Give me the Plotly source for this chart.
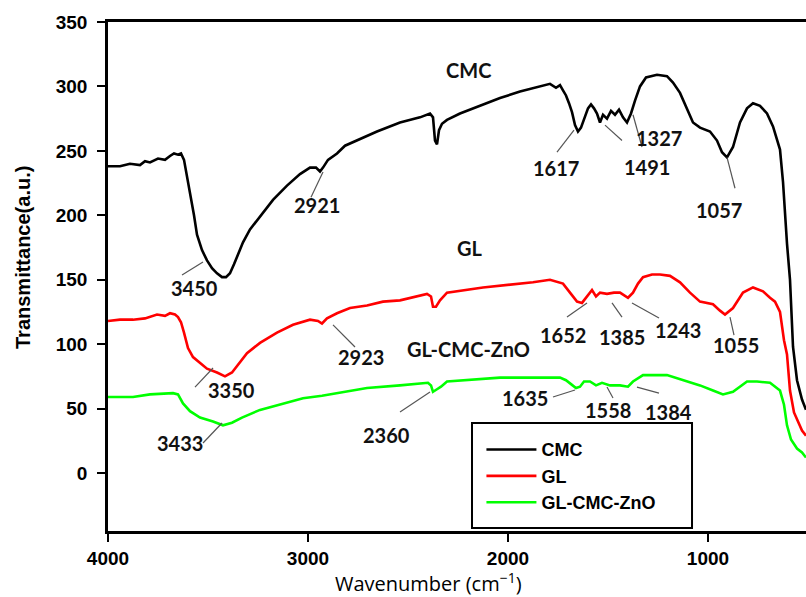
import plotly.graph_objects as go

# FTIR spectra: wavenumber (cm-1) and transmittance (a.u.)
cmc_wn = [4000, 3940, 3890, 3840, 3815, 3790, 3750, 3715, 3690, 3670, 3650, 3635, 3620, 3605,
          3590, 3570, 3555, 3530, 3505, 3480, 3455, 3430, 3410, 3390, 3370, 3350, 3325, 3290,
          3240, 3175, 3105, 3040, 2990, 2960, 2940, 2925, 2900, 2855, 2815, 2755, 2655, 2540,
          2440, 2390, 2375, 2365, 2355, 2345, 2330, 2305, 2240, 2140, 2040, 1940, 1840, 1790,
          1760, 1740, 1725, 1710, 1695, 1680, 1665, 1650, 1635, 1620, 1600, 1585, 1570, 1555,
          1540, 1525, 1505, 1485, 1465, 1445, 1425, 1405, 1385, 1365, 1340, 1310, 1255, 1205,
          1175, 1140, 1105, 1075, 1040, 990, 955, 930, 905, 875, 840, 805, 775, 740, 705, 675,
          640, 625, 605, 590, 575, 555, 530, 510]
cmc_t = [238, 238, 240, 239, 242, 241, 244, 243, 246, 248, 247, 248, 243, 231,
         218, 200, 185, 173, 165, 159, 155, 152, 152, 155, 162, 169, 179, 189,
         199, 212, 223, 232, 237, 237, 234, 237, 243, 248, 254, 258, 265, 272,
         276, 279, 276, 258, 255, 266, 271, 274, 279, 285, 291, 296, 300, 302,
         299, 301, 297, 293, 287, 280, 270, 265, 268, 274, 283, 286, 283, 279,
         272, 278, 275, 281, 278, 282, 276, 272, 279, 289, 300, 307, 309, 308,
         303, 295, 282, 272, 268, 265, 258, 249, 245, 253, 272, 283, 287, 285, 279, 269,
         251, 226, 178, 150, 98, 72, 57, 49]

gl_wn = [4000, 3940, 3875, 3815, 3755, 3715, 3690, 3665, 3650, 3635, 3620, 3600, 3575, 3550,
         3505, 3455, 3415, 3380, 3350, 3305, 3240, 3155, 3075, 2990, 2950, 2930, 2905, 2855,
         2790, 2705, 2625, 2540, 2405, 2385, 2375, 2360, 2340, 2305, 2125, 1875, 1790, 1750,
         1725, 1690, 1655, 1630, 1605, 1580, 1560, 1540, 1505, 1470, 1440, 1400, 1375, 1350,
         1325, 1280, 1240, 1190, 1140, 1090, 1040, 975, 940, 915, 875, 825, 775, 725, 690,
         665, 640, 620, 605, 590, 570, 550, 530, 510]
gl_t = [118, 119, 119, 120, 123, 122, 124, 123, 121, 117, 109, 97, 90, 87,
        81, 78, 75, 78, 84, 93, 101, 109, 115, 119, 118, 116, 120, 124,
        128, 130, 133, 134, 139, 137, 129, 129, 134, 140, 144, 148, 150, 148,
        147, 140, 133, 132, 137, 142, 137, 140, 139, 140, 140, 136, 140, 147,
        152, 154, 154, 153, 148, 140, 133, 131, 126, 123, 128, 140, 144, 141, 136,
        133, 125, 103, 92, 64, 47, 40, 33, 29]

zno_wn = [4000, 3940, 3875, 3790, 3715, 3675, 3650, 3625, 3590, 3540, 3475, 3425, 3380, 3330,
          3240, 3125, 3025, 2930, 2855, 2790, 2705, 2540, 2400, 2385, 2375, 2355, 2335, 2305,
          2040, 1740, 1710, 1685, 1660, 1640, 1620, 1590, 1560, 1530, 1490, 1440, 1400, 1375,
          1325, 1205, 1125, 1040, 975, 925, 875, 805, 755, 690, 640, 620, 605, 585, 555, 530, 510]
zno_t = [59, 59, 59, 61, 62, 62, 61, 54, 48, 43, 40, 37, 39, 43,
         49, 54, 58, 60, 62, 64, 66, 68, 70, 68, 63, 65, 67, 71,
         74, 74, 72, 69, 66, 67, 71, 71, 68, 70, 68, 68, 67, 71,
         76, 76, 72, 68, 64, 61, 63, 71, 71, 70, 64, 53, 37, 26, 19, 16, 12]

series_names = ["CMC", "GL", "GL-CMC-ZnO"]
series_colors = ["#000000", "#ff0000", "#00ff00"]

# Peak labels: text, label position, leader line start and end (wavenumber, transmittance)
peak_labels = [
    ("3450", 3570, 143.6, 3630, 153.7, 3525, 163.8),
    ("2921", 2955, 208.0, 2985, 214.0, 2925, 233.6),
    ("1617", 1760, 236.7, 1755, 249.0, 1670, 266.0),
    ("1491", 1305, 237.5, 1430, 258.0, 1515, 270.0),
    ("1327", 1245, 260.0, 1330, 253.0, 1375, 278.0),
    ("1057", 945, 204.0, 865, 221.0, 905, 245.0),
    ("3350", 3385, 64.4, 3565, 66.7, 3475, 81.5),
    ("2923", 2735, 90.0, 2875, 114.9, 2765, 97.8),
    ("1652", 1725, 107.0, 1705, 121.0, 1605, 132.0),
    ("1385", 1430, 105.5, 1430, 121.0, 1480, 132.0),
    ("1243", 1150, 111.0, 1245, 120.3, 1380, 132.0),
    ("1055", 860, 99.3, 870, 107.0, 890, 121.0),
    ("3433", 3640, 23.3, 3525, 23.3, 3430, 38.8),
    ("2360", 2610, 29.5, 2540, 47.3, 2390, 62.8),
    ("1635", 1915, 58.2, 1775, 59.0, 1665, 64.4),
    ("1558", 1500, 48.9, 1475, 58.2, 1505, 66.7),
    ("1384", 1200, 47.3, 1245, 62.0, 1355, 66.7),
]
curve_titles = [("CMC", 2200, 312.7), ("GL", 2190, 174.6), ("GL-CMC-ZnO", 2200, 96.2)]

fig = go.Figure()
for name, wn, t, col in zip(series_names, [cmc_wn, gl_wn, zno_wn], [cmc_t, gl_t, zno_t], series_colors):
    fig.add_trace(go.Scatter(x=wn, y=t, mode="lines", name=name, legendgroup=name,
                             line=dict(color=col, width=2.6)))

label_font = dict(family="Lato", size=20, color="#111111", weight="bold")
annotations = []
shapes = []
for text, tx, ty, x0, y0, x1, y1 in peak_labels:
    annotations.append(dict(x=tx, y=ty, xref="x", yref="y", text=text, showarrow=False,
                            xanchor="center", yanchor="middle", font=label_font))
    shapes.append(dict(type="line", xref="x", yref="y", x0=x0, y0=y0, x1=x1, y1=y1,
                       line=dict(color="#555555", width=1.2)))
for text, tx, ty in curve_titles:
    annotations.append(dict(x=tx, y=ty, xref="x", yref="y", text=text, showarrow=False,
                            xanchor="center", yanchor="middle", font=label_font))

# axis titles
annotations.append(dict(x=-0.122, y=0.538, xref="paper", yref="paper", text="Transmittance(a.u.)",
                        textangle=-90, showarrow=False, xanchor="center", yanchor="middle",
                        font=dict(family="Liberation Sans", size=20, color="#000000", weight="bold")))
annotations.append(dict(x=0.4585, y=-0.102, xref="paper", yref="paper",
                        text="Wavenumber (cm<sup>\u22121</sup>)", showarrow=False,
                        xanchor="center", yanchor="middle",
                        font=dict(family="Open Sans", size=20, color="#000000")))

# legend frame
shapes.append(dict(type="rect", xref="paper", yref="paper", x0=0.5215, x1=0.8367, y0=0.006, y1=0.2122,
                   line=dict(color="#000000", width=2), fillcolor="rgba(0,0,0,0)"))

fig.update_layout(
    width=806, height=597,
    margin=dict(l=108, r=0, t=22, b=66),
    paper_bgcolor="white", plot_bgcolor="white",
    showlegend=True,
    legend=dict(x=0.535, y=0.196, xanchor="left", yanchor="top", bgcolor="rgba(0,0,0,0)",
                borderwidth=0, tracegroupgap=0, itemwidth=50,
                font=dict(family="Liberation Sans", size=18, color="#000000", weight="bold")),
    annotations=annotations,
    shapes=shapes,
)
fig.update_xaxes(range=[4000, 510], tickvals=[4000, 3000, 2000, 1000], ticks="outside", ticklen=8,
                 tickwidth=2, tickcolor="black", showline=True, linecolor="black", linewidth=2.5,
                 mirror=True, showgrid=False, zeroline=False,
                 tickfont=dict(family="Liberation Sans", size=19, color="#000000", weight="bold"))
fig.update_yaxes(range=[-45, 350], tickvals=[0, 50, 100, 150, 200, 250, 300, 350], ticks="outside",
                 ticklen=8, tickwidth=2, tickcolor="black", showline=True, linecolor="black",
                 linewidth=2.5, showgrid=False, zeroline=False, ticklabelstandoff=6,
                 tickfont=dict(family="Liberation Sans", size=19, color="#000000", weight="bold"))

fig.write_html("out.html")
